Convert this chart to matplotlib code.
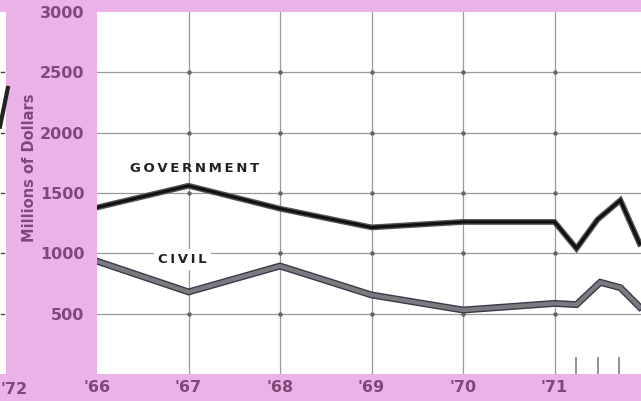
import matplotlib
matplotlib.use("Agg")
import matplotlib.pyplot as plt

# ---- data ----
x_years = [1966, 1967, 1968, 1969, 1970, 1971, 1971.24, 1971.47, 1971.72, 1971.93]
government = [1380, 1560, 1370, 1215, 1260, 1260, 1040, 1280, 1440, 1080]
x_civil = [1966, 1967, 1968, 1969, 1970, 1971, 1971.24, 1971.5, 1971.72, 1971.93]
civil = [935, 680, 895, 655, 530, 585, 575, 760, 715, 555]
year_ticks = [1966, 1967, 1968, 1969, 1970, 1971]
year_labels = ["'66", "'67", "'68", "'69", "'70", "'71"]
y_ticks = [500, 1000, 1500, 2000, 2500, 3000]
quarter_ticks = [1971.24, 1971.47, 1971.70]

PINK = "#ebb2e8"
PURPLE = "#7d4a78"
GRID = "#9a9a9a"
TS = "\u2009"

W, H = 641, 401
fig = plt.figure(figsize=(W / 100, H / 100), dpi=100)
fig.patch.set_facecolor(PINK)

# left strip from the neighbouring chart
strip = fig.add_axes([0, (H - 374) / H, 6 / W, (374 - 12) / H])
strip.set_facecolor("white")
strip.set_xlim(0, 1); strip.set_ylim(0, 3000)
strip.set_xticks([]); strip.set_yticks([])
for s in strip.spines.values():
    s.set_visible(False)
strip.plot([0, 1.3], [2050, 2370], color="#222222", lw=3, clip_on=False)
for v in [500, 1000, 1500, 2000, 2500]:
    strip.plot([0.2, 0.6], [v, v], color="#444444", lw=1)
fig.text(0, (H - 389) / H, "'72", color=PURPLE, fontsize=11.5, fontweight="bold",
         va="center", ha="left")

left, right, top, bottom = 97, 641, 12, 374
ax = fig.add_axes([left / W, (H - bottom) / H, (right - left) / W, (bottom - top) / H])
ax.set_facecolor("white")
ax.set_xlim(1966, 1971.945)
ax.set_ylim(0, 3000)

for s in ax.spines.values():
    s.set_visible(False)

# grid
for yv in [500, 1000, 1500, 2000, 2500]:
    ax.axhline(yv, color=GRID, lw=0.9, zorder=1)
for xv in year_ticks[1:]:
    ax.axvline(xv, color=GRID, lw=0.9, zorder=1)
for xv in year_ticks[1:]:
    for yv in [500, 1000, 1500, 2000, 2500]:
        ax.plot(xv, yv, "o", ms=2.2, color="#666666", zorder=1.5)
for q in quarter_ticks:
    ax.plot([q, q], [0, 130], color="#888888", lw=1.3, zorder=1)

# lines
ax.plot(x_years, government, color="#555555", lw=4.2, zorder=3, solid_joinstyle="miter")
ax.plot(x_years, government, color="#111111", lw=2.2, zorder=4, solid_joinstyle="miter")
ax.plot(x_civil, civil, color="#3a3a4a", lw=5.0, zorder=3, solid_joinstyle="miter")
ax.plot(x_civil, civil, color="#7a7a80", lw=3.0, zorder=4, solid_joinstyle="miter")

# series labels
ax.text(1967.07, 1705, TS.join("GOVERNMENT"), fontsize=9.5, fontweight="bold",
        color="#222222", ha="center", va="center", zorder=2)
ax.text(1966.93, 950, TS.join("CIVIL"), fontsize=9.5, fontweight="bold",
        color="#222222", ha="center", va="center", zorder=2,
        bbox=dict(facecolor="white", edgecolor="none", pad=3))

# ticks
ax.set_yticks(y_ticks)
ax.set_yticklabels([str(v) for v in y_ticks], color=PURPLE, fontsize=11.5,
                   fontweight="bold")
ax.set_xticks(year_ticks)
ax.set_xticklabels(year_labels, color=PURPLE, fontsize=11.5, fontweight="bold")
ax.tick_params(axis="y", length=0, pad=9)
ax.tick_params(axis="x", length=0, pad=4)

fig.text(30 / W, (H - 168) / H, "Millions of Dollars", rotation=90, color=PURPLE,
         fontsize=10.5, fontweight="bold", ha="center", va="center")

fig.savefig("out.png", dpi=100, facecolor=fig.get_facecolor())
